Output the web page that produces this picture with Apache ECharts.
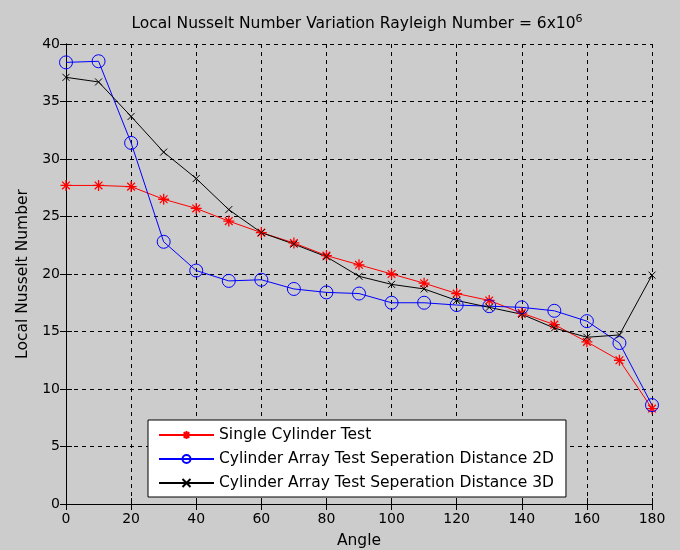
<!DOCTYPE html>
<html>
<head>
<meta charset="utf-8">
<script src="https://cdn.jsdelivr.net/npm/echarts@6/dist/echarts.min.js"></script>
<style>
  html, body { margin: 0; padding: 0; background: #cccccc; }
  #plot { width: 680px; height: 550px; }
</style>
</head>
<body>
<div id="plot"></div>
<script>
var angles = [0, 10, 20, 30, 40, 50, 60, 70, 80, 90, 100, 110, 120, 130, 140, 150, 160, 170, 180];
var singleCyl = [27.7, 27.7, 27.6, 26.5, 25.7, 24.6, 23.6, 22.7, 21.6, 20.8, 20.0, 19.2, 18.3, 17.7, 16.6, 15.6, 14.1, 12.5, 8.3];
var array2D = [38.4, 38.5, 31.4, 22.8, 20.3, 19.4, 19.5, 18.7, 18.4, 18.3, 17.5, 17.5, 17.3, 17.2, 17.1, 16.8, 15.9, 14.0, 8.6];
var array3D = [37.1, 36.7, 33.7, 30.6, 28.3, 25.6, 23.6, 22.6, 21.5, 19.8, 19.1, 18.7, 17.7, 17.1, 16.5, 15.3, 14.5, 14.7, 19.9];
var names = ['Single Cylinder Test', 'Cylinder Array Test Seperation Distance 2D', 'Cylinder Array Test Seperation Distance 3D'];

function pairs(vals) {
    return angles.map(function (a, i) { return [a, vals[i]]; });
}

var star = 'path://M0,-10L0,10M-10,0L10,0M-7,-7L7,7M-7,7L7,-7';
var cross = 'path://M-10,-10L10,10M-10,10L10,-10';
var font = 'DejaVu Sans';
var bigText = 15.5;

var plot = echarts.init(document.getElementById('plot'));
var gridLine = { show: true, lineStyle: { color: '#000', type: [4, 4], width: 1 } };
var option = {
    backgroundColor: '#cccccc',
    animation: false,
    title: {
        text: '{a|Local Nusselt Number Variation Rayleigh Number = 6x10}{b|6}',
        left: 352,
        textAlign: 'center',
        top: 9,
        textStyle: {
            rich: {
                a: { fontFamily: font, fontSize: bigText, color: '#000', fontWeight: 'normal' },
                b: { fontFamily: font, fontSize: 11, color: '#000', fontWeight: 'normal', verticalAlign: 'top', padding: [0, 0, 8, 0] }
            }
        }
    },
    legend: {
        orient: 'vertical',
        left: 148,
        top: 420,
        backgroundColor: '#fff',
        borderColor: '#000',
        borderWidth: 1,
        borderRadius: 0,
        padding: [7, 12, 6, 10],
        itemGap: 8,
        itemWidth: 55,
        itemHeight: 10,
        textStyle: { fontFamily: font, fontSize: bigText, color: '#000' },
        data: names
    },
    grid: { left: 66, right: 28, top: 44, bottom: 46, outerBoundsMode: 'none' },
    xAxis: [{
        type: 'value', min: 0, max: 180, interval: 20,
        name: 'Angle', nameLocation: 'middle', nameGap: 29,
        nameTextStyle: { fontFamily: font, fontSize: bigText, color: '#000' },
        axisLine: { lineStyle: { color: '#000' } },
        axisTick: { inside: true, length: 6, lineStyle: { color: '#000' } },
        axisLabel: { fontFamily: font, fontSize: 14, color: '#000', margin: 8 },
        splitLine: gridLine
    }, {
        type: 'value', min: 0, max: 180, interval: 20, position: 'top',
        axisLine: { show: true, lineStyle: { color: '#000' } },
        axisTick: { inside: true, length: 6, lineStyle: { color: '#000' } },
        axisLabel: { show: false },
        splitLine: { show: false }
    }],
    yAxis: [{
        type: 'value', min: 0, max: 40, interval: 5,
        name: 'Local Nusselt Number', nameLocation: 'middle', nameGap: 30,
        nameTextStyle: { fontFamily: font, fontSize: bigText, color: '#000' },
        axisLine: { show: true, lineStyle: { color: '#000' } },
        axisTick: { show: true, inside: true, length: 6, lineStyle: { color: '#000' } },
        axisLabel: { fontFamily: font, fontSize: 14, color: '#000', margin: 6 },
        splitLine: gridLine
    }, {
        type: 'value', min: 0, max: 40, interval: 5, position: 'right',
        axisLine: { show: true, lineStyle: { color: '#000' } },
        axisTick: { show: true, inside: true, length: 6, lineStyle: { color: '#000' } },
        axisLabel: { show: false },
        splitLine: { show: false }
    }],
    series: [{
        name: names[0], type: 'line', data: pairs(singleCyl),
        symbol: star, symbolSize: 11,
        lineStyle: { color: '#ff0000', width: 1 },
        itemStyle: { color: '#ff0000', borderColor: '#ff0000', borderWidth: 1.3 }
    }, {
        name: names[1], type: 'line', data: pairs(array2D),
        symbol: 'circle', symbolSize: 13,
        lineStyle: { color: '#0000ff', width: 1 },
        itemStyle: { color: 'rgba(0,0,0,0)', borderColor: '#0000ff', borderWidth: 1 }
    }, {
        name: names[2], type: 'line', data: pairs(array3D),
        symbol: cross, symbolSize: 7,
        lineStyle: { color: '#000', width: 1 },
        itemStyle: { color: '#000', borderColor: '#000', borderWidth: 1 }
    }]
};
plot.setOption(option);
window.onresize = function () {
    plot.resize();
};
</script>
</body>
</html>
